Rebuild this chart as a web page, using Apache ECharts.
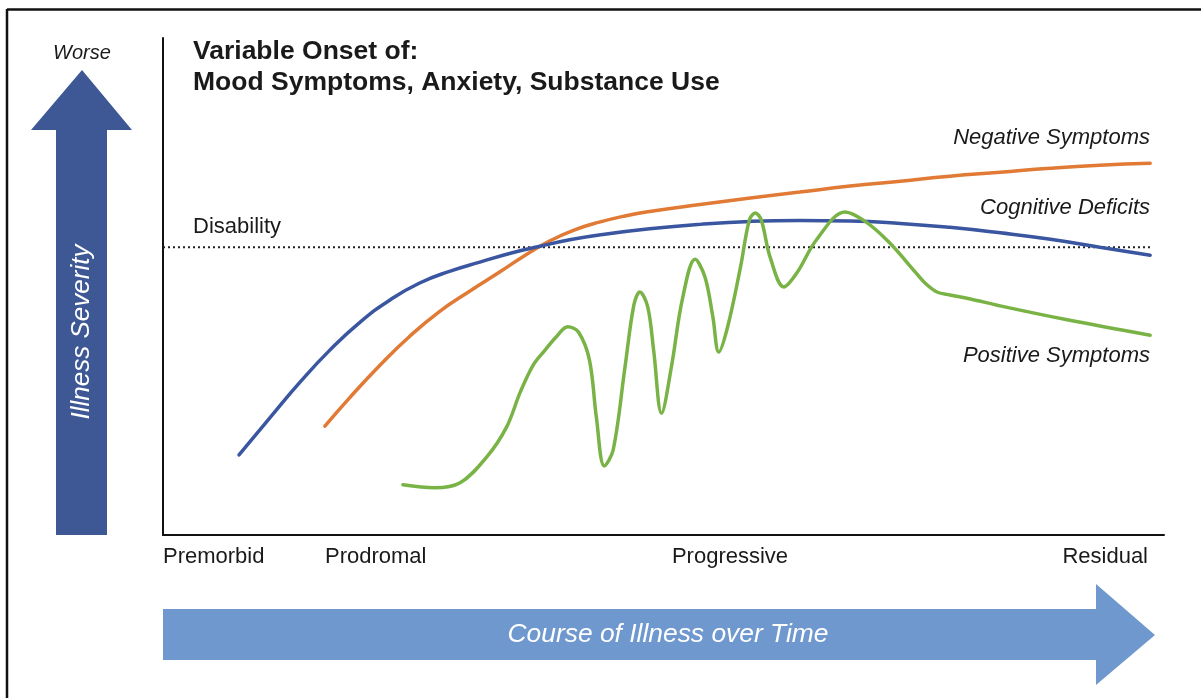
<!DOCTYPE html>
<html>
<head>
<meta charset="utf-8">
<script src="https://cdn.jsdelivr.net/npm/echarts@6/dist/echarts.min.js"></script>
<style>
html,body{margin:0;padding:0;background:#fff;}
#chart{width:1201px;height:698px;}
</style>
</head>
<body>
<div id="chart"></div>
<script>
// ---- data (time 0-100, severity 0-100) ----
const cognitiveDeficits = [
  [7.7,16.1],[10.8,23.5],[13.9,30.8],[16.9,37.2],[20.0,42.9],[23.0,47.3],[26.0,50.7],
  [29.1,53.1],[32.1,54.9],[35.2,56.7],[38.2,58.1],[41.2,59.4],[44.3,60.4],[49.3,61.6],
  [54.4,62.5],[59.5,63.1],[64.5,63.3],[69.6,63.2],[74.7,62.7],[79.7,61.9],[84.8,60.8],
  [89.9,59.5],[94.9,57.9],[100,56.3]
];
const negativeSymptoms = [
  [16.4,21.9],[18.9,27.6],[22.0,34.2],[25.0,40.0],[28.1,45.1],[31.1,49.1],[34.1,52.9],
  [36.7,56.3],[39.2,59.2],[41.7,61.4],[44.3,63.0],[46.8,64.2],[49.3,65.1],[54.4,66.5],
  [59.5,67.8],[64.5,69.0],[69.6,70.2],[74.7,71.2],[79.7,72.2],[84.8,73.0],[89.9,73.8],
  [94.9,74.4],[100,74.8]
];
const positiveSymptoms = [
  [24.3,10.1],[27.5,9.5],[30.1,10.5],[32.8,15.7],[34.8,21.7],[36.2,28.8],[37.5,34.2],
  [38.7,37.2],[39.8,39.8],[41.0,41.9],[42.1,40.8],[43.2,35.2],[43.9,23.7],[44.7,13.9],
  [45.6,17.1],[46.8,33.8],[47.7,46.3],[48.3,48.9],[49.1,45.9],[49.7,37.2],[50.5,24.5],
  [51.5,33.8],[52.6,47.3],[53.9,55.5],[54.9,51.9],[55.7,43.9],[56.3,36.8],[57.2,41.9],
  [58.5,53.9],[59.4,63.4],[60.0,64.8],[60.6,63.4],[61.5,55.9],[62.9,49.9],[64.2,52.7],
  [66.2,59.4],[69.1,65.0],[71.2,63.0],[73.6,58.8],[76.3,52.7],[77.3,50.5],[78.4,48.9],
  [79.7,48.3],[81.8,47.5],[84.8,46.1],[91.6,43.3],[100,40.2]
];
const disabilityLevel = 57.9;
const disabilityLine = [[0, disabilityLevel],[100, disabilityLevel]];
const stageLabels = ['Premorbid','Prodromal','Progressive','Residual'];
const seriesNames = ['Negative Symptoms','Cognitive Deficits','Positive Symptoms'];
const titleLines = ['Variable Onset of:','Mood Symptoms, Anxiety, Substance Use'];

const FONT = '"Liberation Sans", Arial, Helvetica, sans-serif';
const chart = echarts.init(document.getElementById('chart'), null, {renderer:'canvas'});

function txt(text, x, y, size, opts) {
  opts = opts || {};
  return {
    type:'text', x:x, y:y, rotation: opts.rotation || 0, z: 100,
    style:{
      text:text, fill: opts.fill || '#1a1a1a',
      font: (opts.italic ? 'italic ' : '') + (opts.bold ? 'bold ' : '') + size + 'px ' + FONT,
      align: opts.align || 'left', verticalAlign: 'middle'
    }
  };
}

const graphics = [
  // frame (top and left edges)
  {type:'line', shape:{x1:7,y1:9.5,x2:1201,y2:9.5}, style:{stroke:'#111',lineWidth:2.5}},
  {type:'line', shape:{x1:7,y1:9,x2:7,y2:698}, style:{stroke:'#111',lineWidth:2.5}},
  // severity arrow
  {type:'polygon', shape:{points:[[56,535],[56,130],[31,130],[82,70],[132,130],[107,130],[107,535]]},
   style:{fill:'#3E5895'}},
  // time arrow
  {type:'polygon', shape:{points:[[163,609],[1096,609],[1096,584],[1155,635],[1096,685],[1096,660],[163,660]]},
   style:{fill:'#6F98CE'}},
  txt('Worse', 82, 53, 20, {italic:true, align:'center'}),
  txt('Illness Severity', 82, 332, 26, {italic:true, align:'center', fill:'#ffffff', rotation:Math.PI/2}),
  txt('Course of Illness over Time', 668, 635, 26.4, {italic:true, align:'center', fill:'#ffffff'}),
  txt(titleLines[0], 193, 52, 26.5, {bold:true}),
  txt(titleLines[1], 193, 83, 26.5, {bold:true}),
  txt('Disability', 193, 227, 22),
  txt(seriesNames[0], 1150, 138, 22, {italic:true, align:'right'}),
  txt(seriesNames[1], 1150, 208, 22, {italic:true, align:'right'}),
  txt(seriesNames[2], 1150, 356, 22, {italic:true, align:'right'}),
  txt(stageLabels[0], 163, 557, 22),
  txt(stageLabels[1], 325, 557, 22),
  txt(stageLabels[2], 730, 557, 22, {align:'center'}),
  txt(stageLabels[3], 1148, 557, 22, {align:'right'})
];

chart.setOption({
  animation:false,
  backgroundColor:'#ffffff',
  grid:{left:163, top:38, width:1001, height:497, containLabel:false},
  xAxis:{type:'value', min:0, max:101.4, axisLine:{show:true, lineStyle:{color:'#111', width:2}},
    axisTick:{show:false}, axisLabel:{show:false}, splitLine:{show:false}},
  yAxis:{type:'value', min:0, max:100, axisLine:{show:true, lineStyle:{color:'#111', width:2}},
    axisTick:{show:false}, axisLabel:{show:false}, splitLine:{show:false}},
  series:[
    {name:'Disability', type:'line', data:disabilityLine, symbol:'none', silent:true,
     lineStyle:{color:'#222', width:2, type:[2,3]}, z:1},
    {name:seriesNames[1], type:'line', data:cognitiveDeficits, symbol:'none', smooth:0.5,
     lineStyle:{color:'#3A56A0', width:3.5, cap:'round'}, z:3},
    {name:seriesNames[0], type:'line', data:negativeSymptoms, symbol:'none', smooth:0.5,
     lineStyle:{color:'#E07A35', width:3.5, cap:'round'}, z:2},
    {name:seriesNames[2], type:'line', data:positiveSymptoms, symbol:'none', smooth:0.35,
     lineStyle:{color:'#79B345', width:3.5, cap:'round'}, z:4}
  ],
  graphic: graphics
});
</script>
</body>
</html>
